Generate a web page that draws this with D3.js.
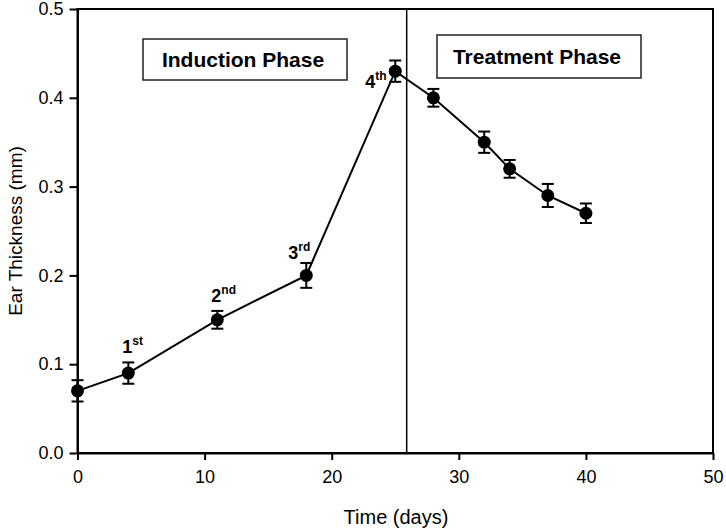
<!DOCTYPE html>
<html>
<head>
<meta charset="utf-8">
<script src="https://cdn.jsdelivr.net/npm/d3@7"></script>
<style>
body { margin: 0; background: #fff; }
svg text { font-family: Arial, "Liberation Sans", sans-serif; }
</style>
</head>
<body>
<svg id="chart" width="726" height="530"></svg>
<script>
const days = [0, 4, 11, 18, 25, 28, 32, 34, 37, 40];
const thickness = [0.07, 0.09, 0.15, 0.20, 0.43, 0.40, 0.35, 0.32, 0.29, 0.27];
const errors = [0.012, 0.012, 0.010, 0.014, 0.012, 0.010, 0.012, 0.010, 0.013, 0.011];
const xTicks = [0, 10, 20, 30, 40, 50];
const yTicks = [0.0, 0.1, 0.2, 0.3, 0.4, 0.5];
const phaseDivider = 25.9;
const doseLabels = [
  { day: 4, value: 0.09, num: "1", sup: "st" },
  { day: 11, value: 0.15, num: "2", sup: "nd" },
  { day: 18, value: 0.20, num: "3", sup: "rd" },
  { day: 25, value: 0.43, num: "4", sup: "th" }
];
const phaseLabels = ["Induction Phase", "Treatment Phase"];

const svg = d3.select("#chart");
const m = { left: 77.5, right: 713, top: 9, bottom: 453 };
const x = d3.scaleLinear().domain([0, 50]).range([m.left, m.right]);
const y = d3.scaleLinear().domain([0, 0.5]).range([m.bottom, m.top]);

// frame
svg.append("rect").attr("x", m.left).attr("y", m.top)
  .attr("width", m.right - m.left).attr("height", m.bottom - m.top)
  .attr("fill", "none").attr("stroke", "#000").attr("stroke-width", 2);

// axes
const xAxis = svg.append("g").attr("transform", `translate(0,${m.bottom})`)
  .call(d3.axisBottom(x).tickValues(xTicks).tickSizeOuter(0).tickSizeInner(7).tickPadding(10).tickFormat(d3.format("d")));
const yAxis = svg.append("g").attr("transform", `translate(${m.left},0)`)
  .call(d3.axisLeft(y).tickValues(yTicks).tickSizeOuter(0).tickSizeInner(8).tickPadding(6).tickFormat(d3.format(".1f")));
[xAxis, yAxis].forEach(g => {
  g.select(".domain").attr("stroke-width", 2);
  g.selectAll(".tick line").attr("stroke-width", 2);
  g.selectAll(".tick text").attr("font-size", 18).attr("fill", "#000")
    .style("font-family", "Arial, 'Liberation Sans', sans-serif");
});

// axis titles
svg.append("text").attr("x", 396).attr("y", 524)
  .attr("text-anchor", "middle").attr("font-size", 20).text("Time (days)");
svg.append("text").attr("transform", `translate(22,${231}) rotate(-90)`)
  .attr("text-anchor", "middle").attr("font-size", 19).text("Ear Thickness (mm)");

// vertical divider
svg.append("line").attr("x1", x(phaseDivider)).attr("x2", x(phaseDivider))
  .attr("y1", m.top).attr("y2", m.bottom).attr("stroke", "#000").attr("stroke-width", 1.5);

// phase boxes
const boxes = [
  { x0: 143, y0: 39, w: 204, h: 41, label: phaseLabels[0] },
  { x0: 437, y0: 35, w: 204, h: 43, label: phaseLabels[1] }
];
boxes.forEach(b => {
  svg.append("rect").attr("x", b.x0).attr("y", b.y0).attr("width", b.w).attr("height", b.h)
    .attr("fill", "#fff").attr("stroke", "#222").attr("stroke-width", 1.5);
  svg.append("text").attr("x", b.x0 + b.w / 2 - 2).attr("y", b.y0 + b.h / 2 + 7)
    .attr("text-anchor", "middle").attr("font-size", 21).attr("font-weight", "bold").text(b.label);
});

const data = days.map((d, i) => ({ d, v: thickness[i], e: errors[i] }));

// line
svg.append("path").datum(data)
  .attr("d", d3.line().x(p => x(p.d)).y(p => y(p.v)))
  .attr("fill", "none").attr("stroke", "#000").attr("stroke-width", 2);

// error bars
const eb = svg.append("g").attr("stroke", "#000").attr("stroke-width", 2);
data.forEach(p => {
  const cx = x(p.d);
  eb.append("line").attr("x1", cx).attr("x2", cx).attr("y1", y(p.v - p.e)).attr("y2", y(p.v + p.e));
  eb.append("line").attr("x1", cx - 6).attr("x2", cx + 6).attr("y1", y(p.v - p.e)).attr("y2", y(p.v - p.e));
  eb.append("line").attr("x1", cx - 6).attr("x2", cx + 6).attr("y1", y(p.v + p.e)).attr("y2", y(p.v + p.e));
});

// markers
svg.append("g").selectAll("circle").data(data).join("circle")
  .attr("cx", p => x(p.d)).attr("cy", p => y(p.v)).attr("r", 6.5).attr("fill", "#000");

// dose labels
const offsets = [
  { dx: -6, dy: -20 },
  { dx: -6, dy: -18 },
  { dx: -18, dy: -16 },
  { dx: -30, dy: 17 }
];
doseLabels.forEach((l, i) => {
  const t = svg.append("text")
    .attr("x", x(l.day) + offsets[i].dx).attr("y", y(l.value) + offsets[i].dy)
    .attr("text-anchor", "start").attr("font-weight", "bold").attr("font-size", 18);
  t.append("tspan").text(l.num);
  t.append("tspan").attr("font-size", 12).attr("dy", -8).text(l.sup);
});
</script>
</body>
</html>
